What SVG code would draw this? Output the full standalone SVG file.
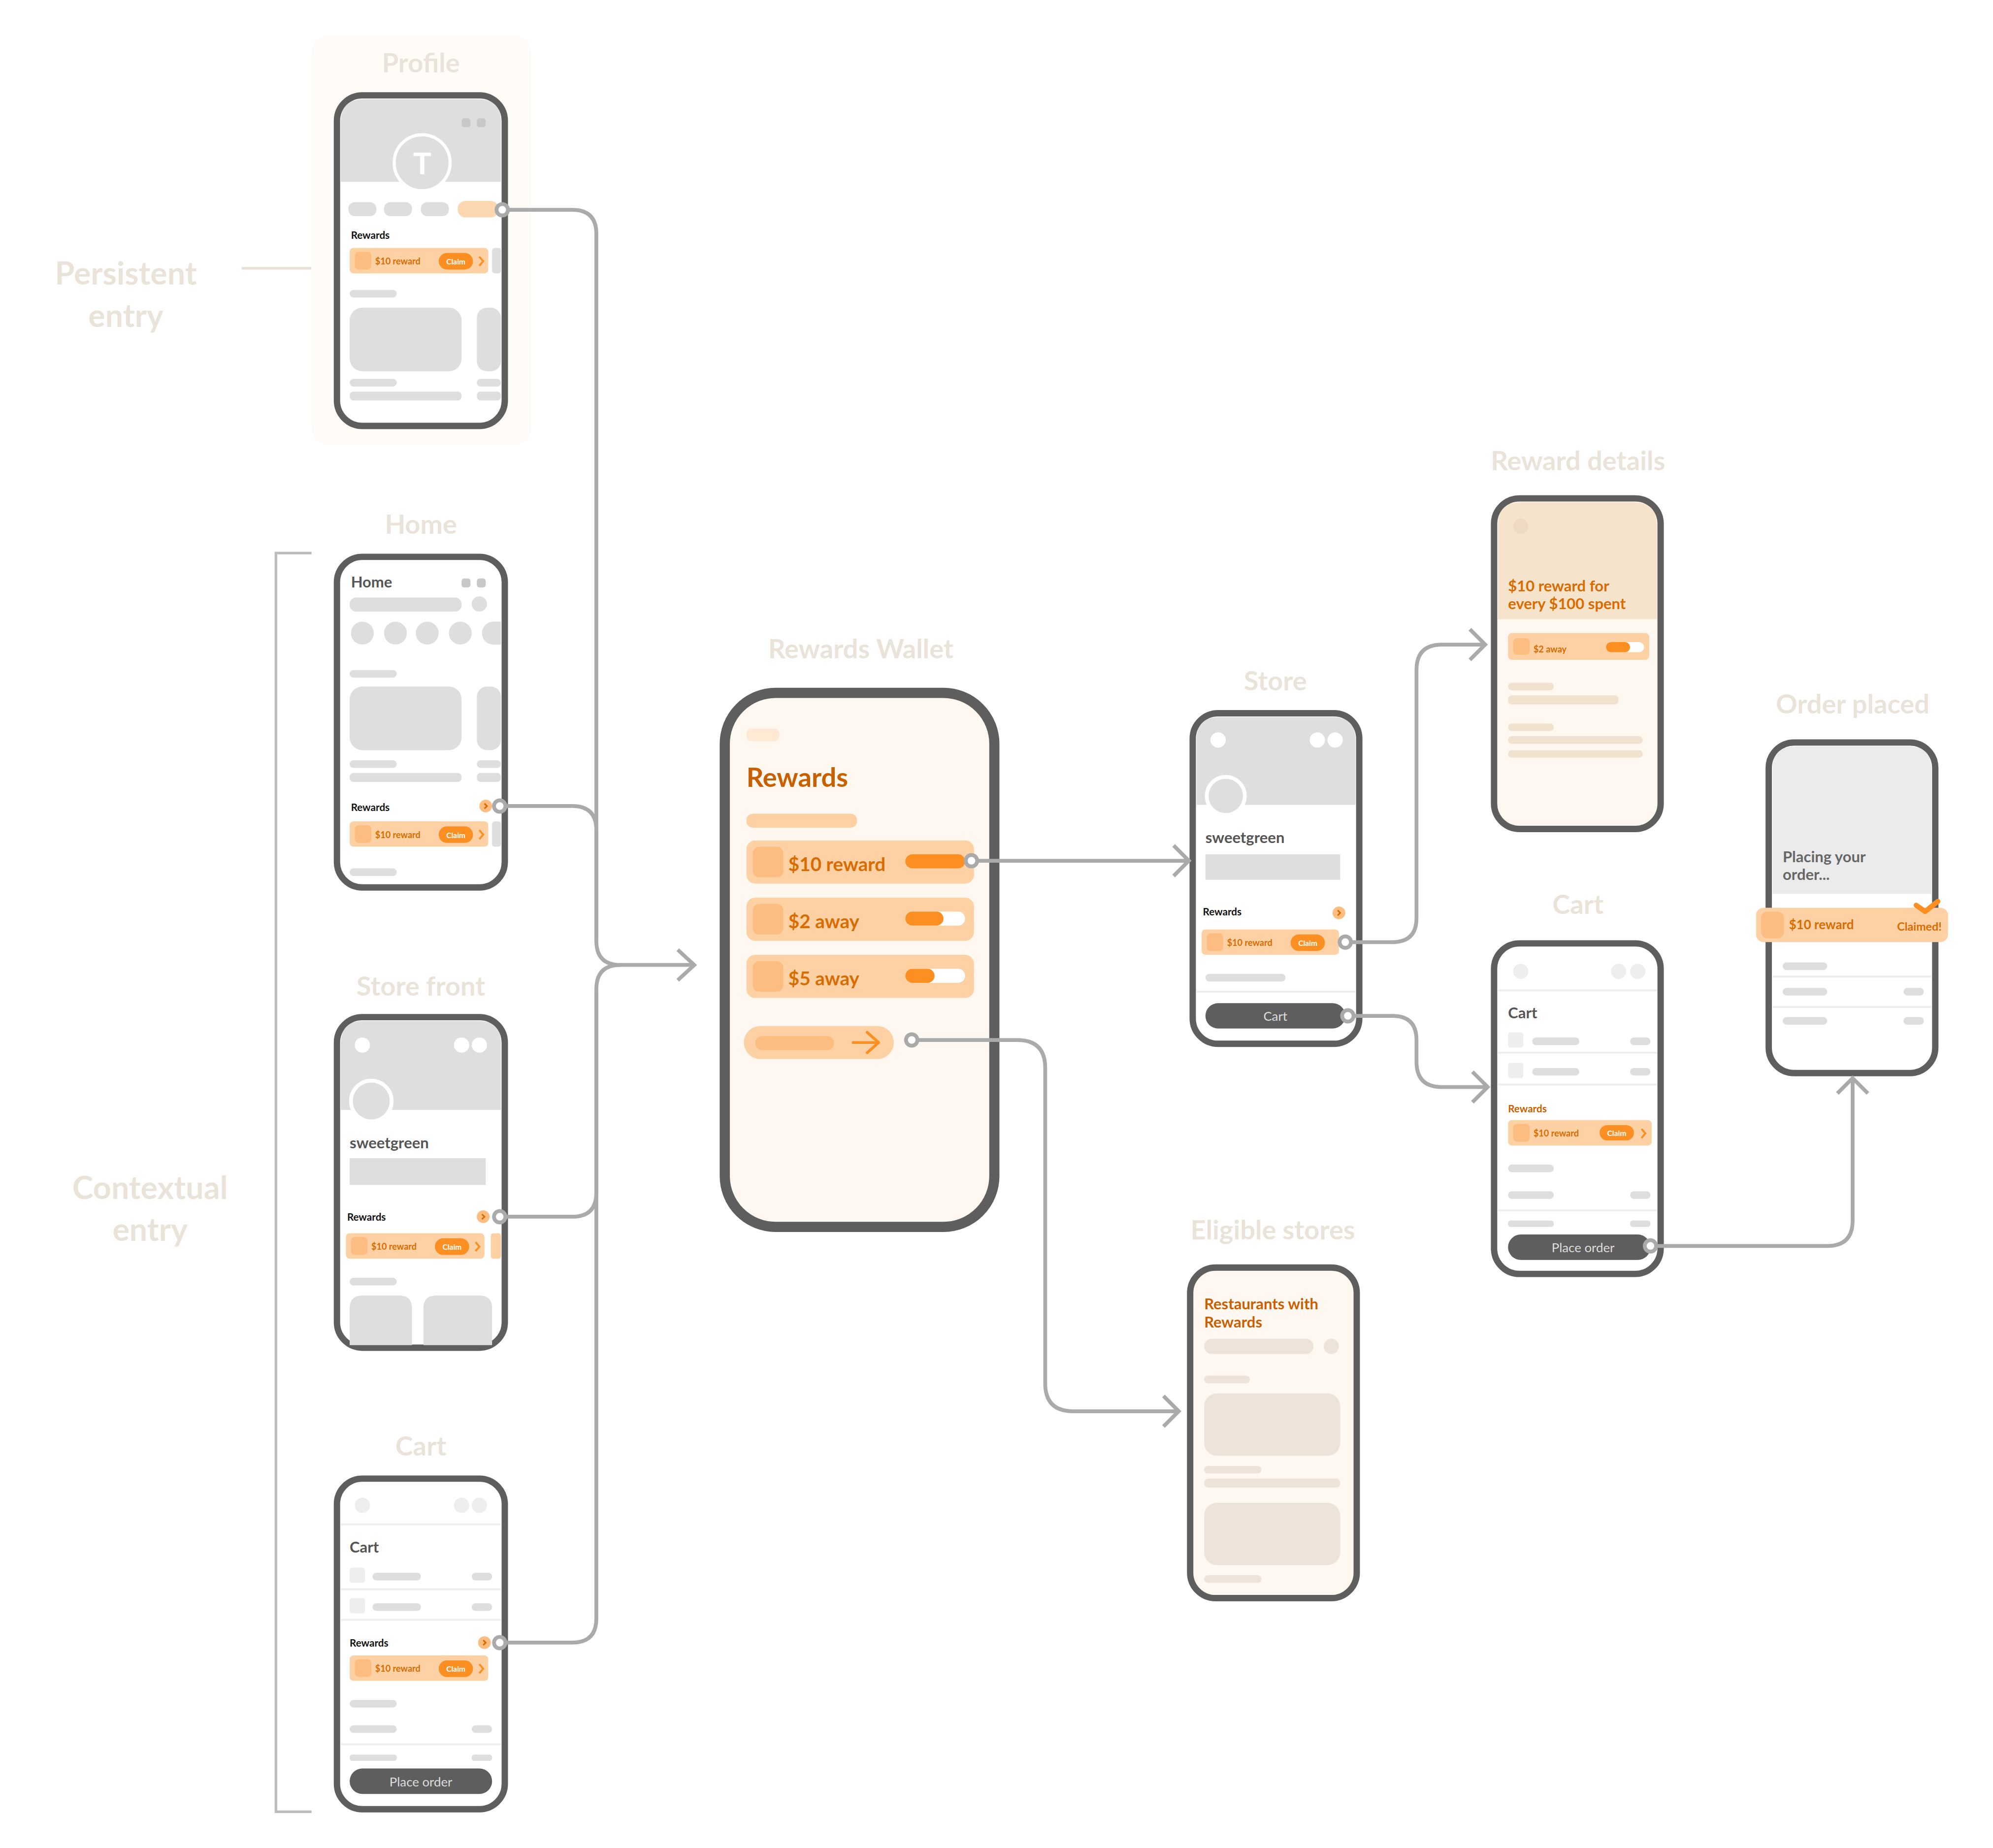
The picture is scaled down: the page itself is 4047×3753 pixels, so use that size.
<svg xmlns="http://www.w3.org/2000/svg" width="4047" height="3753" viewBox="0 0 4047 3753">
<style>
text{font-family:Lato,"Open Sans","Liberation Sans",sans-serif;font-weight:700}
.ph{fill:#fff;stroke:#5e5e5e;stroke-width:5}
.t{fill:#e9e3d9;font-size:21px;text-anchor:middle}
.side{fill:#e9e3d9;font-size:25px;text-anchor:middle}
.g{fill:#dedede}
.gd{fill:#c8c8c8}
.sep{stroke:#eeeeee;stroke-width:1.5}
.card{fill:#fdd1a3}
.sq{fill:#fdbd80}
.or{fill:#fb8f22}
.rt{fill:#d86c00;font-size:7px}
.rw{fill:#111;font-size:8px}
.ct{fill:#fff;font-size:6px;text-anchor:middle}
.chev{fill:none;stroke:#fb8f22;stroke-width:1.5}
.chev2{fill:none;stroke:#d86c00;stroke-width:1.2}
.con{fill:none;stroke:#aaaaaa;stroke-width:3}
.dot{fill:#fff;stroke:#aaaaaa;stroke-width:3}
.hd{fill:#555;font-size:12px}
.btn{fill:#5e5e5e}
.bt{fill:#ddd;font-size:10px;text-anchor:middle;font-weight:400}
.e{fill:#eeeeee}
.w{fill:#fff}
</style>
<rect width="4047" height="3753" fill="#fff"/>
<g transform="scale(2.582)">
<g id="labels">
<line x1="190" y1="211" x2="245" y2="211" stroke="#e6e0d8" stroke-width="2"/>
<text class="side" x="99" y="224">Persistent</text><text class="side" x="99" y="257">entry</text>
<path d="M245,435 H217 V1425 H245" fill="none" stroke="#bbbbbb" stroke-width="2"/>
<text class="side" x="118" y="943">Contextual</text><text class="side" x="118" y="976">entry</text>
</g>

<g id="profile">
<rect x="245" y="28" width="173" height="322" rx="14" fill="#fffbf7"/>
<text class="t" x="331" y="57">Profile</text>
<rect class="ph" x="265" y="75" width="132" height="260" rx="20"/>
<path d="M268,143 V96 Q268,78 286,78 H376 Q394,78 394,96 V143 Z" class="g"/>
<rect class="gd" x="363" y="93" width="7" height="7" rx="2"/><rect class="gd" x="375" y="93" width="7" height="7" rx="2"/>
<circle cx="332" cy="128" r="22" class="g" stroke="#fff" stroke-width="2.5"/>
<text x="332" y="137" fill="#fff" font-size="24" text-anchor="middle">T</text>
<rect class="g" x="274" y="159" width="22" height="11" rx="5"/><rect class="g" x="302" y="159" width="22" height="11" rx="5"/><rect class="g" x="331" y="159" width="22" height="11" rx="5"/>
<rect x="360" y="158" width="32" height="13" rx="6" fill="#fdd7b0"/>
<text class="rw" x="276" y="188">Rewards</text>
<rect class="card" x="275" y="195" width="109" height="20" rx="3"/><rect class="sq" x="279" y="198" width="13" height="14" rx="3"/>
<text class="rt" x="295" y="208">$10 reward</text><rect class="or" x="345" y="199" width="27" height="13" rx="6.5"/><text class="ct" x="358.5" y="208">Claim</text>
<path class="chev" d="M377,202 L380,205.5 L377,209"/>
<rect class="g" x="387" y="195" width="7" height="20" rx="2"/>
<rect class="g" x="275" y="228" width="37" height="6" rx="3"/>
<rect class="g" x="275" y="242" width="88" height="50" rx="10"/><rect class="g" x="375" y="242" width="19" height="50" rx="8"/>
<rect class="g" x="275" y="298" width="37" height="6" rx="3"/><rect class="g" x="275" y="308" width="88" height="7" rx="3"/>
<rect class="g" x="375" y="298" width="19" height="6" rx="3"/><rect class="g" x="375" y="308" width="19" height="7" rx="3"/>
</g>

<g id="home">
<text class="t" x="331" y="420">Home</text>
<rect class="ph" x="265" y="438" width="132" height="260" rx="20"/>
<text class="hd" x="276" y="462">Home</text>
<rect class="gd" x="363" y="455" width="7" height="7" rx="2"/><rect class="gd" x="375" y="455" width="7" height="7" rx="2"/>
<rect class="g" x="275" y="470" width="88" height="11" rx="5"/><circle class="g" cx="377" cy="475" r="6"/>
<circle class="g" cx="285" cy="498" r="9"/><circle class="g" cx="311" cy="498" r="9"/><circle class="g" cx="336" cy="498" r="9"/><circle class="g" cx="362" cy="498" r="9"/><path class="g" d="M388,489 A9,9 0 0 0 388,507 H394 V489 Z"/>
<rect class="g" x="275" y="527" width="37" height="6" rx="3"/>
<rect class="g" x="275" y="540" width="88" height="50" rx="10"/><rect class="g" x="375" y="540" width="19" height="50" rx="8"/>
<rect class="g" x="275" y="598" width="37" height="6" rx="3"/><rect class="g" x="275" y="608" width="88" height="7" rx="3"/>
<rect class="g" x="375" y="598" width="19" height="6" rx="3"/><rect class="g" x="375" y="608" width="19" height="7" rx="3"/>
<text class="rw" x="276" y="638">Rewards</text><circle cx="382" cy="634" r="5" fill="#fdbd80"/><path class="chev2" d="M381,632 L383,634 L381,636"/>
<rect class="card" x="275" y="646" width="109" height="20" rx="3"/><rect class="sq" x="279" y="649" width="13" height="14" rx="3"/>
<text class="rt" x="295" y="659">$10 reward</text><rect class="or" x="345" y="650" width="27" height="13" rx="6.5"/><text class="ct" x="358.5" y="659">Claim</text>
<path class="chev" d="M377,653 L380,656.5 L377,660"/><rect class="g" x="387" y="646" width="7" height="20" rx="2"/>
<rect class="g" x="275" y="683" width="37" height="6" rx="3"/>
</g>

<g id="storefront">
<text class="t" x="331" y="783">Store front</text>
<rect class="ph" x="265" y="800" width="132" height="260" rx="20"/>
<path d="M268,873 V821 Q268,803 286,803 H376 Q394,803 394,821 V873 Z" class="g"/>
<circle class="w" cx="285" cy="822" r="6"/><circle class="w" cx="363" cy="822" r="6"/><circle class="w" cx="377" cy="822" r="6"/>
<circle class="g" cx="292" cy="866" r="16" stroke="#fff" stroke-width="3"/>
<text class="hd" x="275" y="903">sweetgreen</text>
<rect class="g" x="275" y="911" width="107" height="21"/>
<text class="rw" x="273" y="960">Rewards</text><circle cx="380" cy="957" r="5" fill="#fdbd80"/><path class="chev2" d="M379,955 L381,957 L379,959"/>
<rect class="card" x="272" y="970" width="109" height="20" rx="3"/><rect class="sq" x="276" y="973" width="13" height="14" rx="3"/>
<text class="rt" x="292" y="983">$10 reward</text><rect class="or" x="342" y="974" width="27" height="13" rx="6.5"/><text class="ct" x="355.5" y="983">Claim</text>
<path class="chev" d="M374,977 L377,980.5 L374,984"/><rect class="card" x="386" y="970" width="8" height="20" rx="2"/>
<rect class="g" x="275" y="1005" width="37" height="6" rx="3"/>
<path class="g" d="M275,1058 V1029 Q275,1019 285,1019 H314 Q324,1019 324,1029 V1058 Z"/>
<path class="g" d="M333,1058 V1029 Q333,1019 343,1019 H377 Q387,1019 387,1029 V1058 Z"/>
</g>

<g id="cart-left">
<text class="t" x="331" y="1145">Cart</text>
<rect class="ph" x="265" y="1163" width="132" height="260" rx="20"/>
<circle class="e" cx="285" cy="1184" r="6"/><circle class="e" cx="363" cy="1184" r="6"/><circle class="e" cx="377" cy="1184" r="6"/>
<line class="sep" x1="268" y1="1199" x2="394" y2="1199"/>
<text class="hd" x="275" y="1221">Cart</text>
<rect class="e" x="275" y="1233" width="12" height="12" rx="2"/><rect class="g" x="293" y="1237" width="38" height="6" rx="3"/><rect class="g" x="371" y="1237" width="16" height="6" rx="3"/>
<line class="sep" x1="268" y1="1250" x2="394" y2="1250"/>
<rect class="e" x="275" y="1257" width="12" height="12" rx="2"/><rect class="g" x="293" y="1261" width="38" height="6" rx="3"/><rect class="g" x="371" y="1261" width="16" height="6" rx="3"/>
<line class="sep" x1="268" y1="1274" x2="394" y2="1274"/>
<text class="rw" x="275" y="1295">Rewards</text><circle cx="381" cy="1292" r="5" fill="#fdbd80"/><path class="chev2" d="M380,1290 L382,1292 L380,1294"/>
<rect class="card" x="275" y="1302" width="109" height="20" rx="3"/><rect class="sq" x="279" y="1305" width="13" height="14" rx="3"/>
<text class="rt" x="295" y="1315">$10 reward</text><rect class="or" x="345" y="1306" width="27" height="13" rx="6.5"/><text class="ct" x="358.5" y="1315">Claim</text>
<path class="chev" d="M377,1309 L380,1312.5 L377,1316"/>
<rect class="g" x="275" y="1337" width="37" height="6" rx="3"/>
<rect class="g" x="275" y="1357" width="37" height="6" rx="3"/><rect class="g" x="371" y="1357" width="16" height="6" rx="3"/>
<line class="sep" x1="268" y1="1372" x2="394" y2="1372"/>
<rect class="g" x="275" y="1380" width="37" height="5" rx="2"/><rect class="g" x="371" y="1380" width="16" height="5" rx="2"/>
<rect class="btn" x="275" y="1391" width="112" height="20" rx="10"/><text class="bt" x="331" y="1405">Place order</text>
</g>

<g id="wallet">
<text class="t" x="677" y="518">Rewards Wallet</text>
<rect x="570" y="545" width="212" height="420" rx="40" fill="#fff8f1" stroke="#5e5e5e" stroke-width="8"/>
<rect x="587" y="573" width="26" height="10" rx="4" fill="#ffe9d4"/>
<text x="587" y="619" fill="#c85f00" font-size="21">Rewards</text>
<rect x="587" y="640" width="87" height="11" rx="5" fill="#fdd1a3"/>
<rect class="card" x="587" y="661" width="179" height="34" rx="7"/><rect class="sq" x="592" y="666" width="24" height="24" rx="5"/>
<text x="620" y="685" fill="#d86c00" font-size="15">$10 reward</text><rect class="or" x="712" y="672" width="47" height="11" rx="5.5"/>
<rect class="card" x="587" y="706" width="179" height="34" rx="7"/><rect class="sq" x="592" y="711" width="24" height="24" rx="5"/>
<text x="620" y="730" fill="#d86c00" font-size="15">$2 away</text><rect class="w" x="712" y="717" width="47" height="11" rx="5.5"/><rect class="or" x="712" y="717" width="30" height="11" rx="5.5"/>
<rect class="card" x="587" y="751" width="179" height="34" rx="7"/><rect class="sq" x="592" y="756" width="24" height="24" rx="5"/>
<text x="620" y="775" fill="#d86c00" font-size="15">$5 away</text><rect class="w" x="712" y="762" width="47" height="11" rx="5.5"/><rect class="or" x="712" y="762" width="23" height="11" rx="5.5"/>
<rect class="card" x="585" y="807" width="118" height="26" rx="13"/><rect class="sq" x="594" y="815" width="62" height="11" rx="5.5"/>
<path d="M671,820 H690 M682,812 L691,820 L682,828" fill="none" stroke="#fb8f22" stroke-width="2.2" stroke-linecap="round" stroke-linejoin="round"/>
</g>

<g id="store">
<text class="t" x="1003" y="543">Store</text>
<rect class="ph" x="938" y="561" width="131" height="260" rx="20"/>
<path d="M941,633 V582 Q941,564 959,564 H1048 Q1066,564 1066,582 V633 Z" class="g"/>
<circle class="w" cx="958" cy="582" r="6"/><circle class="w" cx="1036" cy="582" r="6"/><circle class="w" cx="1050" cy="582" r="6"/>
<circle class="g" cx="964" cy="626" r="15" stroke="#fff" stroke-width="3"/>
<text class="hd" x="948" y="663">sweetgreen</text>
<rect class="g" x="948" y="672" width="106" height="20"/>
<text class="rw" x="946" y="720">Rewards</text><circle cx="1053" cy="718" r="5" fill="#fdbd80"/><path class="chev2" d="M1052,716 L1054,718 L1052,720"/>
<rect class="card" x="945" y="731" width="108" height="20" rx="3"/><rect class="sq" x="949" y="734" width="13" height="14" rx="3"/>
<text class="rt" x="965" y="744">$10 reward</text><rect class="or" x="1015" y="735" width="27" height="13" rx="6.5"/><text class="ct" x="1028.5" y="744">Claim</text>
<rect class="g" x="948" y="766" width="63" height="6" rx="3"/>
<line class="sep" x1="941" y1="780" x2="1066" y2="780"/>
<rect class="btn" x="948" y="789" width="110" height="20" rx="10"/><text class="bt" x="1003" y="803">Cart</text>
</g>

<g id="eligible">
<text class="t" x="1001" y="975">Eligible stores</text>
<rect x="936" y="997" width="131" height="260" rx="20" fill="#fff8f1" stroke="#5e5e5e" stroke-width="5"/>
<text x="947" y="1030" fill="#c85f00" font-size="12">Restaurants with</text><text x="947" y="1044" fill="#c85f00" font-size="12">Rewards</text>
<rect x="947" y="1053" width="86" height="12" rx="6" fill="#ede3d8"/><circle cx="1047" cy="1059" r="6" fill="#ede3d8"/>
<rect x="947" y="1082" width="36" height="6" rx="3" fill="#ede3d8"/>
<rect x="947" y="1096" width="107" height="49" rx="10" fill="#ede3d8"/>
<rect x="947" y="1153" width="45" height="6" rx="3" fill="#ede3d8"/><rect x="947" y="1163" width="107" height="7" rx="3" fill="#ede3d8"/>
<rect x="947" y="1182" width="107" height="49" rx="10" fill="#ede3d8"/>
<rect x="947" y="1239" width="45" height="6" rx="3" fill="#ede3d8"/>
</g>

<g id="reward-details">
<text class="t" x="1241" y="370">Reward details</text>
<rect x="1175" y="392" width="131" height="260" rx="20" fill="#fff8f1" stroke="#5e5e5e" stroke-width="5"/>
<path d="M1178,487 V413 Q1178,395 1196,395 H1285 Q1303,395 1303,413 V487 Z" fill="#f5e3cc"/>
<circle cx="1196" cy="414" r="6" fill="#eedac2"/>
<text x="1186" y="465" fill="#d86c00" font-size="12">$10 reward for</text><text x="1186" y="479" fill="#d86c00" font-size="12">every $100 spent</text>
<rect class="card" x="1186" y="498" width="111" height="21" rx="3"/><rect class="sq" x="1190" y="502" width="13" height="13" rx="3"/>
<text class="rt" x="1206" y="513">$2 away</text><rect class="w" x="1263" y="505" width="30" height="8" rx="4"/><rect class="or" x="1263" y="505" width="19" height="8" rx="4"/>
<rect x="1186" y="537" width="36" height="6" rx="3" fill="#f1e2d0"/><rect x="1186" y="547" width="87" height="7" rx="3" fill="#f1e2d0"/>
<rect x="1186" y="569" width="36" height="6" rx="3" fill="#f1e2d0"/><rect x="1186" y="579" width="106" height="6" rx="3" fill="#f1e2d0"/><rect x="1186" y="590" width="106" height="6" rx="3" fill="#f1e2d0"/>
</g>

<g id="cart-right">
<text class="t" x="1241" y="719">Cart</text>
<rect class="ph" x="1175" y="742" width="131" height="260" rx="20"/>
<circle class="e" cx="1196" cy="764" r="6"/><circle class="e" cx="1273" cy="764" r="6"/><circle class="e" cx="1288" cy="764" r="6"/>
<line class="sep" x1="1178" y1="779" x2="1303" y2="779"/>
<text class="hd" x="1186" y="801">Cart</text>
<rect class="e" x="1186" y="812" width="12" height="12" rx="2"/><rect class="g" x="1205" y="816" width="37" height="6" rx="3"/><rect class="g" x="1282" y="816" width="16" height="6" rx="3"/>
<line class="sep" x1="1178" y1="828" x2="1303" y2="828"/>
<rect class="e" x="1186" y="836" width="12" height="12" rx="2"/><rect class="g" x="1205" y="840" width="37" height="6" rx="3"/><rect class="g" x="1282" y="840" width="16" height="6" rx="3"/>
<line class="sep" x1="1178" y1="853" x2="1303" y2="853"/>
<text x="1186" y="875" fill="#c85f00" font-size="8">Rewards</text>
<rect class="card" x="1186" y="881" width="113" height="20" rx="3"/><rect class="sq" x="1190" y="884" width="13" height="14" rx="3"/>
<text class="rt" x="1206" y="894">$10 reward</text><rect class="or" x="1258" y="885" width="27" height="12" rx="6"/><text class="ct" x="1271.5" y="893.5">Claim</text>
<path class="chev" d="M1291,888 L1294,891.5 L1291,895"/>
<rect class="g" x="1186" y="916" width="36" height="6" rx="3"/>
<rect class="g" x="1186" y="937" width="36" height="6" rx="3"/><rect class="g" x="1282" y="937" width="16" height="6" rx="3"/>
<line class="sep" x1="1178" y1="952" x2="1303" y2="952"/>
<rect class="g" x="1186" y="960" width="36" height="5" rx="2"/><rect class="g" x="1282" y="960" width="16" height="5" rx="2"/>
<rect class="btn" x="1186" y="971" width="112" height="20" rx="10"/><text class="bt" x="1245" y="985">Place order</text>
</g>

<g id="order-placed">
<text class="t" x="1457" y="561">Order placed</text>
<rect class="ph" x="1391" y="584" width="131" height="260" rx="20"/>
<path d="M1394,703 V605 Q1394,587 1412,587 H1501 Q1519,587 1519,605 V703 Z" fill="#ebebeb"/>
<text x="1402" y="678" fill="#666" font-size="12">Placing your</text><text x="1402" y="692" fill="#666" font-size="12">order...</text>
<rect class="card" x="1381" y="714" width="151" height="27" rx="6"/><rect class="sq" x="1385" y="717" width="18" height="21" rx="5"/>
<text x="1407" y="731" fill="#d86c00" font-size="10">$10 reward</text><text x="1527" y="732" fill="#d86c00" font-size="9" text-anchor="end">Claimed!</text>
<path d="M1507,712 L1514,717 L1524,709" fill="none" stroke="#fb8f22" stroke-width="4" stroke-linecap="round" stroke-linejoin="round"/>
<rect class="g" x="1402" y="757" width="35" height="6" rx="3"/>
<line class="sep" x1="1394" y1="768" x2="1519" y2="768"/>
<rect class="g" x="1402" y="777" width="35" height="6" rx="3"/><rect class="g" x="1497" y="777" width="16" height="6" rx="3"/>
<line class="sep" x1="1394" y1="792" x2="1519" y2="792"/>
<rect class="g" x="1402" y="800" width="35" height="6" rx="3"/><rect class="g" x="1497" y="800" width="16" height="6" rx="3"/>
</g>

<g id="connectors">
<path class="con" d="M395,165 H450 Q469,165 469,184 V740 Q469,759 488,759 H545"/>
<path class="con" d="M393,634 H450 Q469,634 469,653 V740"/>
<path class="con" d="M393,957 H450 Q469,957 469,938 V778 Q469,759 488,759"/>
<path class="con" d="M393,1292 H450 Q469,1292 469,1273 V778"/>
<path class="con" d="M533,747 L546,759 L533,771"/>
<path class="con" d="M764,677 H935 M923,665 L935,677 L923,689"/>
<path class="con" d="M717,818 H800 Q822,818 822,840 V1088 Q822,1110 844,1110 H927 M915,1098 L927,1110 L915,1122"/>
<path class="con" d="M1058,741 H1095 Q1114,741 1114,722 V527 Q1114,507 1134,507 H1168 M1156,495 L1168,507 L1156,519"/>
<path class="con" d="M1060,799 H1095 Q1114,799 1114,818 V835 Q1114,855 1134,855 H1170 M1158,843 L1170,855 L1158,867"/>
<path class="con" d="M1298,980 H1437 Q1457,980 1457,960 V848 M1445,860 L1457,848 L1469,860"/>
<circle class="dot" cx="395" cy="165" r="4.5"/><circle class="dot" cx="393" cy="634" r="4.5"/><circle class="dot" cx="393" cy="957" r="4.5"/><circle class="dot" cx="393" cy="1292" r="4.5"/>
<circle class="dot" cx="764" cy="677" r="4.5"/><circle class="dot" cx="717" cy="818" r="4.5"/>
<circle class="dot" cx="1058" cy="741" r="4.5"/><circle class="dot" cx="1060" cy="799" r="4.5"/><circle class="dot" cx="1298" cy="980" r="4.5"/>
</g>
</g>
</svg>
